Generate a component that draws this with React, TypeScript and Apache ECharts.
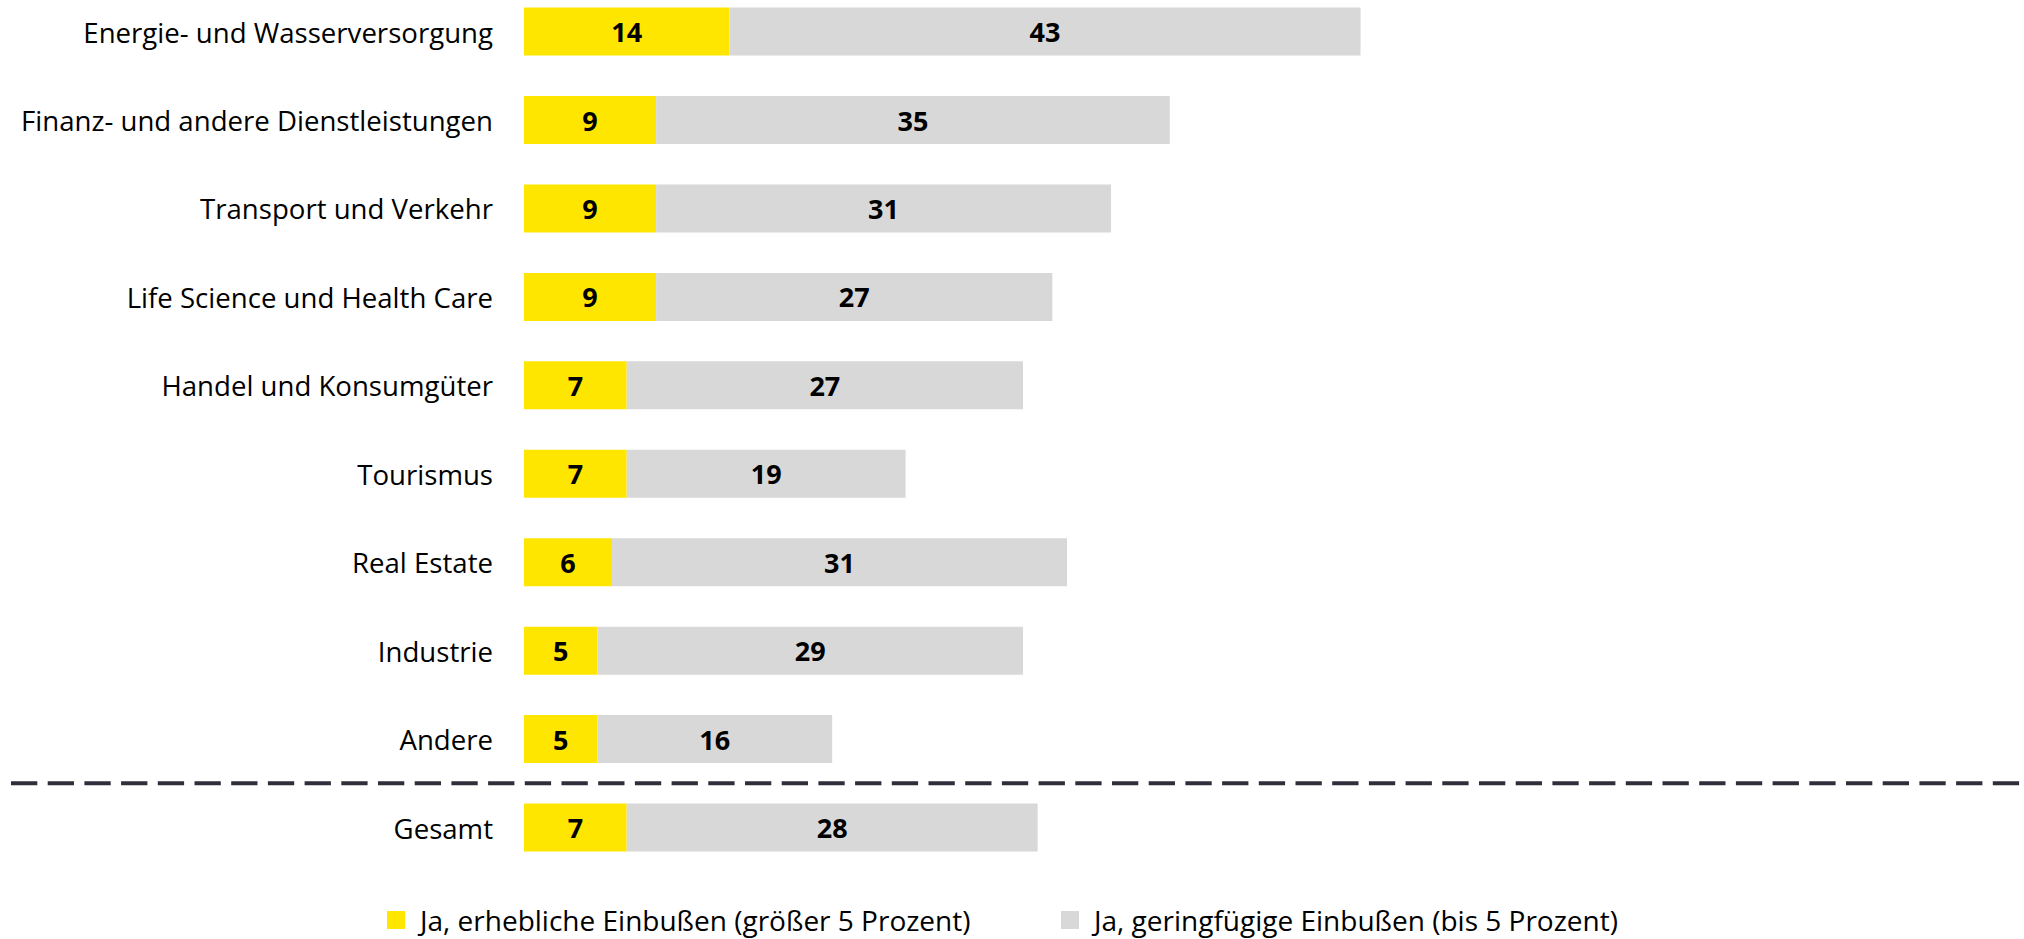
import React, { useEffect, useRef } from "react";
import * as echarts from "echarts";

const categories = [
  "Energie- und Wasserversorgung",
  "Finanz- und andere Dienstleistungen",
  "Transport und Verkehr",
  "Life Science und Health Care",
  "Handel und Konsumgüter",
  "Tourismus",
  "Real Estate",
  "Industrie",
  "Andere",
  "Gesamt",
];
const erheblich = [14, 9, 9, 9, 7, 7, 6, 5, 5, 7];
const geringfuegig = [43, 35, 31, 27, 27, 19, 31, 29, 16, 28];
const seriesNames = [
  "Ja, erhebliche Einbußen (größer 5 Prozent)",
  "Ja, geringfügige Einbußen (bis 5 Prozent)",
];

const FONT = "'Open Sans', 'Noto Sans', sans-serif";
const YELLOW = "#FFE600";
const GREY = "#D8D8D8";

export default function App() {
  const ref = useRef<HTMLDivElement>(null);
  useEffect(() => {
    if (!ref.current) return;
    const chart = echarts.init(ref.current, undefined, { renderer: "svg" });
    const labelStyle = {
      show: true,
      position: "inside",
      color: "#000",
      fontWeight: "bold",
      fontSize: 27,
      fontFamily: FONT,
    };
    const legendText = {
      fontSize: 28,
      lineHeight: 28,
      color: "#000",
      fontFamily: FONT,
      padding: [0, 0, 0, 10],
    };
    chart.setOption({
      animation: false,
      backgroundColor: "#fff",
      textStyle: { fontFamily: FONT },
      grid: { left: 524, top: 31.6, width: 1467.6, height: 795.9, containLabel: false },
      xAxis: {
        type: "value",
        min: 0,
        max: 100,
        show: false,
      },
      yAxis: {
        type: "category",
        inverse: true,
        boundaryGap: false,
        data: categories,
        axisLine: { show: false },
        axisTick: { show: false },
        splitLine: { show: false },
        axisLabel: {
          margin: 31,
          color: "#000",
          fontSize: 27.6,
          fontFamily: FONT,
        },
      },
      legend: [
        {
          data: [seriesNames[0]],
          left: 387,
          top: 906,
          padding: 0,
          itemWidth: 18,
          itemHeight: 18,
          icon: "rect",
          textStyle: legendText,
        },
        {
          data: [seriesNames[1]],
          left: 1061,
          top: 906,
          padding: 0,
          itemWidth: 18,
          itemHeight: 18,
          icon: "rect",
          textStyle: legendText,
        },
      ],
      series: [
        {
          name: seriesNames[0],
          type: "bar",
          stack: "total",
          data: erheblich,
          barWidth: 48,
          itemStyle: { color: YELLOW },
          label: labelStyle,
        },
        {
          name: seriesNames[1],
          type: "bar",
          stack: "total",
          data: geringfuegig,
          barWidth: 48,
          itemStyle: { color: GREY },
          label: labelStyle,
        },
      ],
    });
    const yA = chart.convertToPixel({ yAxisIndex: 0 }, categories[categories.length - 2]) as number;
    const yB = chart.convertToPixel({ yAxisIndex: 0 }, categories[categories.length - 1]) as number;
    const yMid = (yA + yB) / 2;
    chart.setOption({
      graphic: [
        {
          type: "line",
          shape: { x1: 11, y1: yMid, x2: 2020, y2: yMid },
          style: { stroke: "#2f2f3b", lineWidth: 4, lineDash: [26.3, 10.4] },
          silent: true,
        },
      ],
    });
    return () => chart.dispose();
  }, []);
  return (
    <div
      ref={ref}
      style={{ position: "fixed", left: 0, top: 0, width: 2024, height: 939 }}
    />
  );
}
